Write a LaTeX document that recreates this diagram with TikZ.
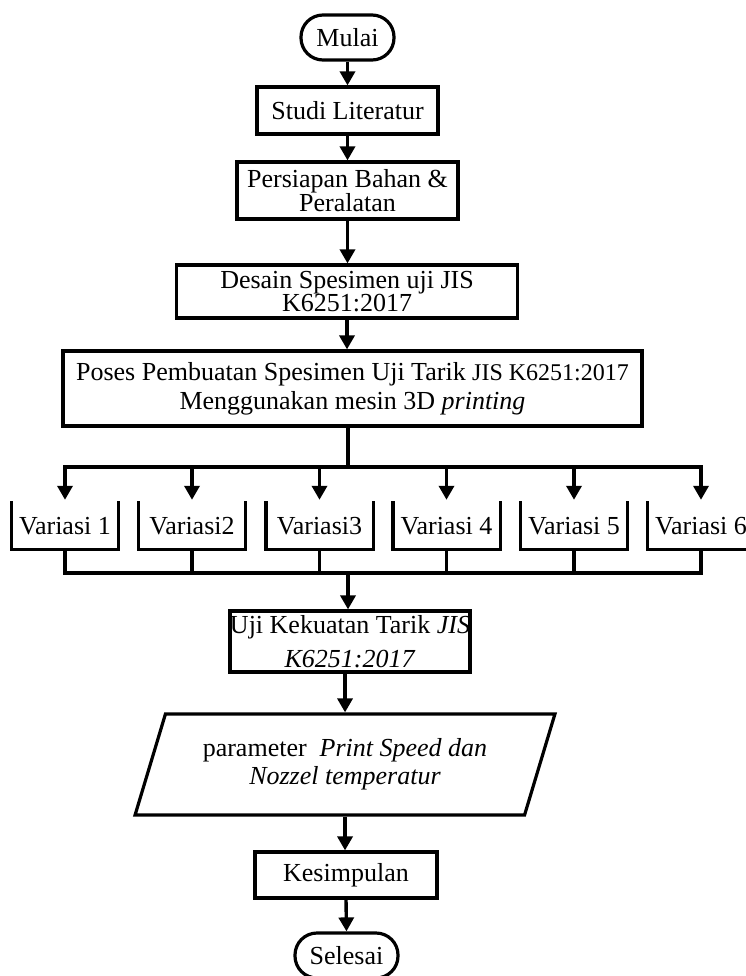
\documentclass[tikz,border=0pt]{standalone}
\usepackage{fontspec}
\setmainfont{Liberation Serif}
\usetikzlibrary{arrows.meta,shapes.geometric}
\begin{document}
\begin{tikzpicture}[x=1pt,y=-1pt,
  every node/.style={font=\fontsize{26}{26}\selectfont, inner sep=0pt, align=center},
  box/.style={draw, line width=3.2pt, rectangle},
  term/.style={draw, line width=3.2pt, rectangle, rounded corners=22pt},
  link/.style={line width=3.4pt, line cap=rect},
  arr/.style={line width=3.4pt, -{Triangle[length=14pt,width=15pt]}},
  var/.style={minimum width=107pt, minimum height=46pt},
]
\useasboundingbox (0,0) rectangle (746,976);
\clip (0,0) rectangle (746,976);

\node[term, minimum width=93pt, minimum height=45pt] (mulai) at (347.5,37.5) {Mulai};
\node[box, minimum width=181pt, minimum height=47pt] (studi) at (347.5,110.5) {Studi Literatur};
\node[box, minimum width=221pt, minimum height=57pt, font=\fontsize{26}{21}\selectfont] (bahan) at (347.5,190.5) {Persiapan Bahan \&\\Peralatan};
\node[box, minimum width=341pt, minimum height=53pt, font=\fontsize{26}{22}\selectfont] (desain) at (347,291.5) {Desain Spesimen uji JIS\\K6251:2017};
\node[box, minimum width=579pt, minimum height=75pt, font=\fontsize{26}{29}\selectfont] (poses) at (352.5,388.5) {Poses Pembuatan Spesimen Uji Tarik {\fontsize{24}{29}\selectfont JIS K6251:2017}\\Menggunakan mesin 3D \textit{printing}};

\node[var] (v1) at (65,526) {Variasi 1};
\node[var] (v2) at (192,526) {Variasi2};
\node[var] (v3) at (319.5,526) {Variasi3};
\node[var] (v4) at (446.5,526) {Variasi 4};
\node[var] (v5) at (574,526) {Variasi 5};
\node[var] (v6) at (701,526) {Variasi 6};

\node[box, minimum width=238pt, minimum height=61pt, font=\fontsize{26}{34}\selectfont] (uji) at (350,641.5) {Uji Kekuatan Tarik \textit{JIS}\\\textit{K6251:2017}};
\node[trapezium, trapezium left angle=65, trapezium right angle=115, trapezium stretches=true, draw, line width=3.2pt, minimum width=420pt, minimum height=101pt, font=\fontsize{26}{28}\selectfont] (para) at (345,764.5) {parameter\ \ \textit{Print Speed dan}\\\textit{Nozzel temperatur}};
\node[box, minimum width=182pt, minimum height=46pt] (kesim) at (346,875) {Kesimpulan};
\node[term, minimum width=103pt, minimum height=45pt] (selesai) at (346.5,955.5) {Selesai};

\coordinate (br) at (348,467);
\coordinate (mg) at (348,573);

\draw[arr] (mulai.south) -- (studi.north);
\draw[arr] (studi.south) -- (bahan.north);
\draw[arr] (bahan.south) -- (bahan.south |- desain.north);
\draw[arr] (desain.south) -- (desain.south |- poses.north);
\draw[link] (br |- poses.south) -- (br);
\draw[link] (v1.north |- br) -- (v6.north |- br);
\foreach \i in {1,...,6} {
  \draw[arr] (v\i.north |- br) -- ([yshift=3pt]v\i.north);
  \draw[link] (v\i.north west) |- (v\i.south east) -- (v\i.north east);
  \draw[link] (v\i.south) -- (v\i.south |- mg);
}
\draw[link] (v1.south |- mg) -- (v6.south |- mg);
\draw[arr] (mg) -- (mg |- uji.north);
\draw[arr] (para.north |- uji.south) -- (para.north);
\draw[arr] (para.south) -- (para.south |- kesim.north);
\draw[arr] (kesim.south) -- (selesai.north);
\end{tikzpicture}
\end{document}
